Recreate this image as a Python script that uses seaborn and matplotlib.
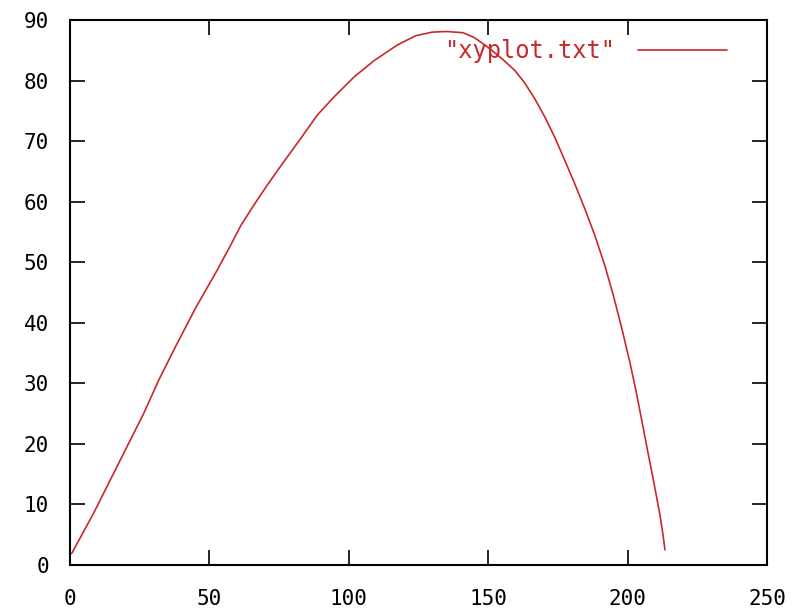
import matplotlib
matplotlib.use("Agg")
import matplotlib.pyplot as plt
import seaborn as sns

# points
x_vals = [0.6, 8.4, 14.4, 20.4, 26.4, 31.8, 38.0, 45.0, 52.8, 57.6, 61.2,
          65.9, 70.7, 76.7, 82.7, 88.7, 94.7, 101.9, 109.1, 117.5, 124.0,
          130.0, 135.0, 141.0, 145.0, 149.9, 154.7, 159.5, 163.1, 166.7,
          170.3, 173.9, 177.4, 181.0, 184.5, 188.2, 191.8, 194.9, 197.8,
          200.8, 203.0, 205.2, 207.2, 209.0, 210.5, 211.7, 212.7, 213.4]
y_vals = [1.9, 8.5, 14.0, 19.5, 25.0, 30.5, 36.2, 42.4, 48.7, 52.8, 56.0,
          59.4, 62.7, 66.6, 70.4, 74.3, 77.3, 80.6, 83.3, 85.9, 87.4,
          88.0, 88.1, 87.9, 87.1, 85.5, 83.7, 81.7, 79.6, 77.0,
          74.0, 70.6, 66.9, 63.0, 59.0, 54.5, 49.5, 44.5, 39.3,
          33.5, 28.8, 23.6, 18.8, 14.6, 11.0, 8.0, 5.0, 2.5]
x_ticks = [0, 50, 100, 150, 200, 250]
y_ticks = [0, 10, 20, 30, 40, 50, 60, 70, 80, 90]
series_label = '"xyplot.txt"'

sns.set_style("white")
plt.rcParams['font.family'] = ['DejaVu Sans Mono']

red = "#c8282a"

fig = plt.figure(figsize=(8.06, 6.12), dpi=100)
ax = fig.add_axes([70 / 806, 1 - 565 / 612, 697 / 806, 545 / 612])

sns.lineplot(x=x_vals, y=y_vals, ax=ax, color=red, linewidth=1.2,
             label=series_label, sort=False)

ax.set_xlim(0, 250)
ax.set_ylim(0, 90)
ax.set_xticks(x_ticks)
ax.set_yticks(y_ticks)

for s in ax.spines.values():
    s.set_color("black")
    s.set_linewidth(1.5)

ax.tick_params(axis="both", direction="in", length=11, width=1.2,
               top=True, right=True, bottom=True, left=True,
               labelsize=15, colors="black")
ax.tick_params(axis="y", pad=15)
ax.tick_params(axis="x", pad=17)

leg = ax.legend(loc="upper right", frameon=False, markerfirst=False,
                handlelength=3.8, handletextpad=0.95, borderaxespad=0.3,
                bbox_to_anchor=(0.967, 0.995), prop={"size": 17})
for t in leg.get_texts():
    t.set_color(red)

fig.savefig("out.png", dpi=100)
